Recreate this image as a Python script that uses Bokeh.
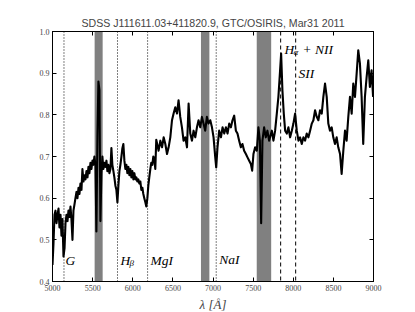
from bokeh.plotting import figure
from bokeh.models import Range1d, LinearAxis, FixedTicker, Span, NumeralTickFormatter
from bokeh.core.properties import value
from bokeh.embed import file_html
from bokeh.resources import INLINE

# ---- data ----
wavelength = [
    5000, 5012, 5025, 5037, 5050, 5062, 5075, 5087, 5100, 5112, 5124, 5137, 5150, 5162, 5174, 5187,
    5199, 5212, 5224, 5236, 5249, 5261, 5274, 5286, 5299, 5311, 5324, 5336, 5348, 5361, 5373, 5386,
    5398, 5411, 5423, 5436, 5448, 5460, 5473, 5485, 5498, 5510, 5522, 5535, 5547, 5560, 5572, 5585,
    5597, 5610, 5622, 5634, 5647, 5659, 5672, 5684, 5696, 5709, 5722, 5734, 5746, 5759, 5771, 5784,
    5796, 5809, 5821, 5834, 5846, 5859, 5871, 5883, 5896, 5908, 5921, 5933, 5946, 5958, 5970, 5983,
    5995, 6008, 6020, 6033, 6045, 6057, 6070, 6082, 6095, 6107, 6120, 6132, 6144, 6157, 6169, 6182,
    6194, 6206, 6219, 6231, 6244, 6256, 6268, 6281, 6293, 6322, 6344, 6365, 6385, 6406, 6427, 6447,
    6468, 6489, 6509, 6530, 6551, 6571, 6592, 6613, 6633, 6655, 6676, 6696, 6717, 6738, 6758, 6779,
    6800, 6820, 6841, 6862, 6882, 6903, 6924, 6944, 6966, 6987, 7007, 7028, 7040, 7056, 7077, 7099,
    7119, 7140, 7161, 7181, 7202, 7223, 7243, 7264, 7285, 7305, 7326, 7347, 7367, 7388, 7410, 7430,
    7451, 7472, 7488, 7504, 7525, 7546, 7566, 7584, 7600, 7616, 7637, 7658, 7678, 7699, 7733, 7753,
    7774, 7795, 7815, 7836, 7849, 7865, 7882, 7899, 7920, 7940, 7961, 7982, 8002, 8023, 8044, 8065,
    8085, 8106, 8127, 8147, 8168, 8189, 8210, 8231, 8251, 8272, 8293, 8313, 8334, 8355, 8375, 8396,
    8417, 8437, 8458, 8479, 8499, 8520, 8541, 8561, 8583, 8603, 8624, 8645, 8665, 8686, 8707, 8728,
    8748, 8769, 8790, 8810, 8831, 8852, 8872, 8893, 8914, 8935, 8955, 8976, 8995,
]
flux = [
    0.44, 0.49, 0.56, 0.57, 0.54, 0.56, 0.575, 0.53, 0.56, 0.51, 0.55, 0.46, 0.48, 0.54, 0.56, 0.545,
    0.57, 0.555, 0.58, 0.55, 0.50, 0.57, 0.585, 0.60, 0.615, 0.60, 0.625, 0.61, 0.635, 0.62, 0.67, 0.64,
    0.655, 0.645, 0.665, 0.65, 0.675, 0.66, 0.685, 0.67, 0.69, 0.68, 0.70, 0.68, 0.52, 0.75, 0.88, 0.86,
    0.545, 0.66, 0.70, 0.67, 0.685, 0.675, 0.69, 0.665, 0.68, 0.66, 0.67, 0.72, 0.68, 0.665, 0.65, 0.63,
    0.62, 0.59, 0.63, 0.665, 0.68, 0.70, 0.72, 0.73, 0.69, 0.67, 0.68, 0.66, 0.675, 0.655, 0.67, 0.65,
    0.665, 0.645, 0.66, 0.645, 0.65, 0.64, 0.645, 0.635, 0.64, 0.62, 0.625, 0.61, 0.60, 0.59, 0.58, 0.60,
    0.63, 0.65, 0.67, 0.685, 0.68, 0.70, 0.695, 0.67, 0.74, 0.714, 0.738, 0.722, 0.746, 0.73, 0.706, 0.722,
    0.746, 0.787, 0.803, 0.818, 0.803, 0.835, 0.795, 0.77, 0.738, 0.746, 0.722, 0.827, 0.755, 0.738, 0.762, 0.746,
    0.77, 0.787, 0.77, 0.795, 0.779, 0.762, 0.795, 0.779, 0.787, 0.77, 0.746, 0.698, 0.674, 0.722, 0.762, 0.746,
    0.77, 0.755, 0.77, 0.755, 0.779, 0.77, 0.787, 0.798, 0.762, 0.755, 0.738, 0.722, 0.73, 0.714, 0.706, 0.698,
    0.69, 0.682, 0.666, 0.706, 0.722, 0.714, 0.77, 0.738, 0.54, 0.738, 0.77, 0.746, 0.762, 0.738, 0.762, 0.738,
    0.762, 0.803, 0.843, 0.907, 0.947, 0.859, 0.803, 0.762, 0.755, 0.77, 0.746, 0.762, 0.779, 0.803, 0.762, 0.738,
    0.746, 0.73, 0.746, 0.738, 0.755, 0.746, 0.762, 0.779, 0.787, 0.811, 0.795, 0.787, 0.811, 0.803, 0.843, 0.875,
    0.843, 0.779, 0.762, 0.77, 0.746, 0.73, 0.746, 0.722, 0.706, 0.658, 0.714, 0.762, 0.738, 0.795, 0.843, 0.803,
    0.875, 0.843, 0.899, 0.955, 0.923, 0.843, 0.73, 0.843, 0.89, 0.931, 0.867, 0.907, 0.843,
]

band_left = [5525, 6850, 7545]
band_right = [5625, 6955, 7725]

dotted_lines = [5143, 5810, 6185, 7040]
dashed_lines = [7843, 8030]

x_ticks = [5000, 5500, 6000, 6500, 7000, 7500, 8000, 8500, 9000]
y_ticks = [0.4, 0.5, 0.6, 0.7, 0.8, 0.9, 1.0]

title_text = "SDSS J111611.03+411820.9, GTC/OSIRIS, Mar31 2011"
x_label = "\u03bb [\u00c5]"

# line labels: main text, anchor wavelength, anchor flux (baseline)
lab_text = ["G", "H", "MgI", "NaI", "H", "SII"]
lab_x = [5162, 5846, 6220, 7077, 7890, 8064]
lab_y = [0.45, 0.45, 0.45, 0.452, 0.956, 0.90]
sub_text = ["\u03b2", "\u03b1"]
sub_x = [5846, 7890]
sub_y = [0.45, 0.956]
plus_text = ["+ NII"]
plus_x = [7890]
plus_y = [0.956]

serif = "Liberation Serif"

p = figure(
    frame_width=321, frame_height=250,
    min_border_left=52, min_border_right=42, min_border_top=31, min_border_bottom=31,
    x_range=Range1d(5000, 9000), y_range=Range1d(0.4, 1.0),
    output_backend="svg", toolbar_location=None,
    background_fill_color="white", border_fill_color="white",
)
p.title.text = title_text
p.title.align = "center"
p.title.text_font = "Liberation Sans"
p.title.text_font_size = "10.6px"
p.title.text_font_style = "normal"
p.title.standoff = 5

p.xgrid.visible = False
p.ygrid.visible = False
p.outline_line_color = "black"
p.outline_line_width = 1

# bands
p.quad(left=band_left, right=band_right, bottom=0.4, top=1.0,
       fill_color="#808080", line_color=None)

for loc in dotted_lines:
    p.add_layout(Span(location=loc, dimension="height", line_color="black",
                      line_width=1, line_dash="1 2"))
for loc in dashed_lines:
    p.add_layout(Span(location=loc, dimension="height", line_color="black",
                      line_width=1, line_dash="4 3"))

p.line(wavelength, flux, line_color="black", line_width=2.1, line_join="round")

p.text(x=lab_x, y=lab_y, text=lab_text, text_font=value(serif), text_font_style="italic",
       text_font_size="13.5px", text_baseline="alphabetic", text_align="left", text_color="black")
p.text(x=sub_x, y=sub_y, text=sub_text, text_font=value(serif), text_font_style="italic",
       text_font_size="9px", text_baseline="alphabetic", text_align="left", text_color="black",
       x_offset=9, y_offset=2)
p.text(x=plus_x, y=plus_y, text=plus_text, text_font=value(serif), text_font_style="italic",
       text_font_size="13.5px", text_baseline="alphabetic", text_align="left", text_color="black",
       x_offset=18)

xa = p.xaxis[0]
xa.ticker = FixedTicker(ticks=x_ticks)
ya = p.yaxis[0]
ya.ticker = FixedTicker(ticks=y_ticks)
ya.formatter = NumeralTickFormatter(format="0.0")
for ax in (xa, ya):
    ax.axis_line_color = "black"
    ax.major_tick_in = 4
    ax.major_tick_out = 0
    ax.minor_tick_line_color = None
    ax.major_label_text_font = serif
    ax.major_label_text_font_size = "8px"
    ax.major_label_standoff = 3
xa.axis_label = x_label
xa.axis_label_text_font = serif
xa.axis_label_text_font_style = "italic"
xa.axis_label_text_font_size = "13px"
xa.axis_label_standoff = 3

top_ax = LinearAxis(ticker=FixedTicker(ticks=x_ticks))
right_ax = LinearAxis(ticker=FixedTicker(ticks=y_ticks))
for ax in (top_ax, right_ax):
    ax.axis_line_color = "black"
    ax.major_tick_in = 4
    ax.major_tick_out = 0
    ax.minor_tick_line_color = None
    ax.major_label_text_color = None
    ax.major_label_text_font_size = "1px"
    ax.major_label_standoff = 0
p.add_layout(top_ax, "above")
p.add_layout(right_ax, "right")

open("out.html", "w").write(file_html(p, INLINE))
